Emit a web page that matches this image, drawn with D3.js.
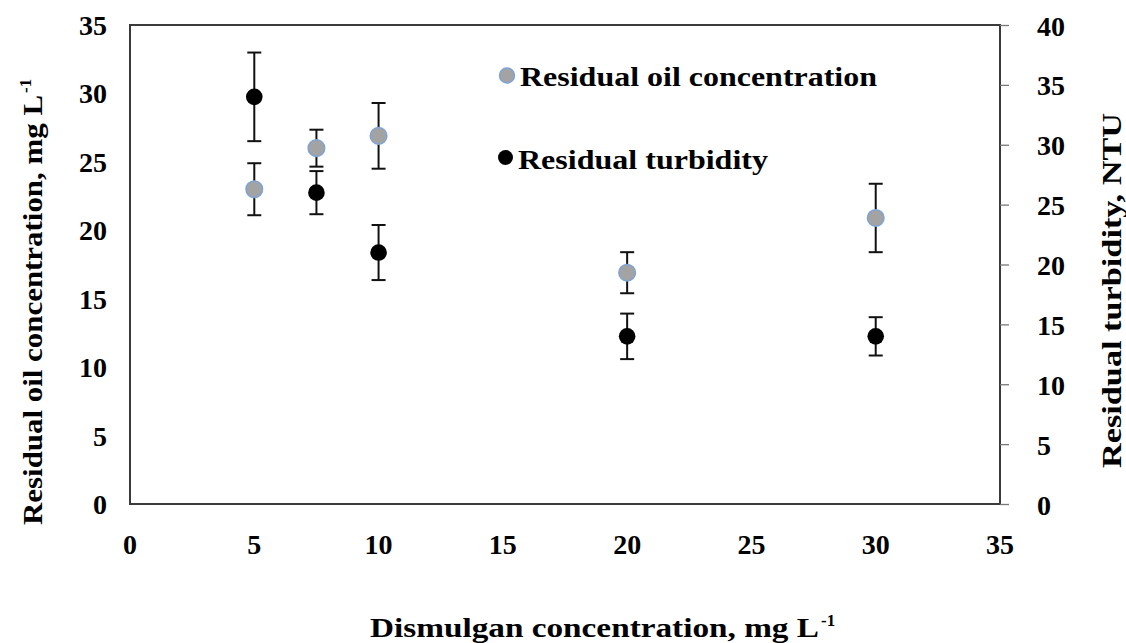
<html>
<meta charset="utf-8" />
<head>
<title>Dismulgan chart</title>
<script src="https://cdn.jsdelivr.net/npm/d3@7"></script>
<style>
	body { margin: 0; background: #fff; }
	text { font-family: 'Liberation Serif', 'Times New Roman', serif; font-weight: bold; fill: #000; }
</style>
</head>
<body>
<svg id="chart" width="1126" height="643"></svg>
<script>
// dosage of dismulgan, mg/L
const doses = [5, 7.5, 10, 20, 30];
// residual oil concentration (left axis) and its error
const oilValues = [23, 26, 26.9, 16.9, 20.9];
const oilErr = [1.9, 1.35, 2.4, 1.5, 2.5];
// residual turbidity (right axis) and its error
const turbValues = [34, 26, 21, 14, 14];
const turbErr = [3.7, 1.8, 2.3, 1.9, 1.6];

const xTicks = [0, 5, 10, 15, 20, 25, 30, 35];
const yLeftTicks = [0, 5, 10, 15, 20, 25, 30, 35];
const yRightTicks = [0, 5, 10, 15, 20, 25, 30, 35, 40];

const svg = d3.select('#chart');
const pLeft = 130, pRight = 1000, pTop = 25, pBottom = 504;

let xScale = d3.scaleLinear().domain([0, 35]).range([pLeft, pRight]);
let yLeft = d3.scaleLinear().domain([0, 35]).range([pBottom, pTop]);
let yRight = d3.scaleLinear().domain([0, 40]).range([pBottom, pTop]);

// frame
svg.append('rect')
	.attr('x', pLeft).attr('y', pTop)
	.attr('width', pRight - pLeft).attr('height', pBottom - pTop)
	.attr('fill', 'none').attr('stroke', '#3a3a3a').attr('stroke-width', 2);

// x tick labels
svg.append('g').selectAll('text').data(xTicks).enter()
	.append('text')
	.attr('x', d => xScale(d))
	.attr('y', pBottom + 50)
	.attr('text-anchor', 'middle')
	.style('font-size', '28px')
	.text(d => d);

// left tick labels
svg.append('g').selectAll('text').data(yLeftTicks).enter()
	.append('text')
	.attr('x', pLeft - 23)
	.attr('y', d => yLeft(d) + 10)
	.attr('text-anchor', 'end')
	.style('font-size', '28px')
	.text(d => d);

// right axis with outward ticks
let rightAxis = d3.axisRight(yRight).tickValues(yRightTicks).tickSize(9).tickPadding(28);
let rg = svg.append('g').attr('transform', 'translate(' + pRight + ',0)').call(rightAxis);
rg.select('.domain').remove();
rg.selectAll('line').attr('stroke', '#777').attr('stroke-width', 1.3);
rg.selectAll('text').style('font-size', '28px').attr('fill', '#000')
	.attr('dy', null).attr('y', 10);

// error bars
function errorBars(vals, errs, yScale) {
	let g = svg.append('g').attr('stroke', '#111').attr('stroke-width', 2);
	doses.forEach((d, i) => {
		let x = xScale(d);
		let y1 = yScale(vals[i] + errs[i]), y2 = yScale(vals[i] - errs[i]);
		g.append('line').attr('x1', x).attr('x2', x).attr('y1', y1).attr('y2', y2);
		g.append('line').attr('x1', x - 7).attr('x2', x + 7).attr('y1', y1).attr('y2', y1);
		g.append('line').attr('x1', x - 7).attr('x2', x + 7).attr('y1', y2).attr('y2', y2);
	});
}
errorBars(oilValues, oilErr, yLeft);
errorBars(turbValues, turbErr, yRight);

// points
svg.append('g').selectAll('circle').data(doses).enter()
	.append('circle')
	.attr('cx', d => xScale(d))
	.attr('cy', (d, i) => yLeft(oilValues[i]))
	.attr('r', 8.3)
	.attr('fill', '#a3a3a3')
	.attr('stroke', '#7ea3d6').attr('stroke-width', 1.5);

svg.append('g').selectAll('circle').data(doses).enter()
	.append('circle')
	.attr('cx', d => xScale(d))
	.attr('cy', (d, i) => yRight(turbValues[i]))
	.attr('r', 8.3)
	.attr('fill', '#000');

// legend
svg.append('circle').attr('cx', 507).attr('cy', 75.5).attr('r', 7.5)
	.attr('fill', '#a3a3a3').attr('stroke', '#7ea3d6').attr('stroke-width', 1.5);
svg.append('text').attr('x', 520).attr('y', 86).style('font-size', '27px')
	.attr('textLength', 357).attr('lengthAdjust', 'spacingAndGlyphs')
	.text('Residual oil concentration');
svg.append('circle').attr('cx', 505.5).attr('cy', 157.5).attr('r', 7.5).attr('fill', '#000');
svg.append('text').attr('x', 518).attr('y', 169).style('font-size', '27px')
	.attr('textLength', 250).attr('lengthAdjust', 'spacingAndGlyphs')
	.text('Residual turbidity');

// axis titles
svg.append('text')
	.attr('transform', 'translate(42,525) rotate(-90)')
	.style('font-size', '27px')
	.attr('textLength', 430).attr('lengthAdjust', 'spacingAndGlyphs')
	.text('Residual oil concentration, mg L');
svg.append('text')
	.attr('transform', 'translate(31,93) rotate(-90)')
	.style('font-size', '17px')
	.text('-1');

svg.append('text')
	.attr('transform', 'translate(1121,468) rotate(-90)')
	.style('font-size', '27px')
	.attr('textLength', 355).attr('lengthAdjust', 'spacingAndGlyphs')
	.text('Residual turbidity, NTU');

svg.append('text')
	.attr('x', 370).attr('y', 637)
	.style('font-size', '27px')
	.attr('textLength', 449).attr('lengthAdjust', 'spacingAndGlyphs')
	.text('Dismulgan concentration, mg L');
svg.append('text')
	.attr('x', 821).attr('y', 626)
	.style('font-size', '17px')
	.text('-1');
</script>
</body>
</html>
